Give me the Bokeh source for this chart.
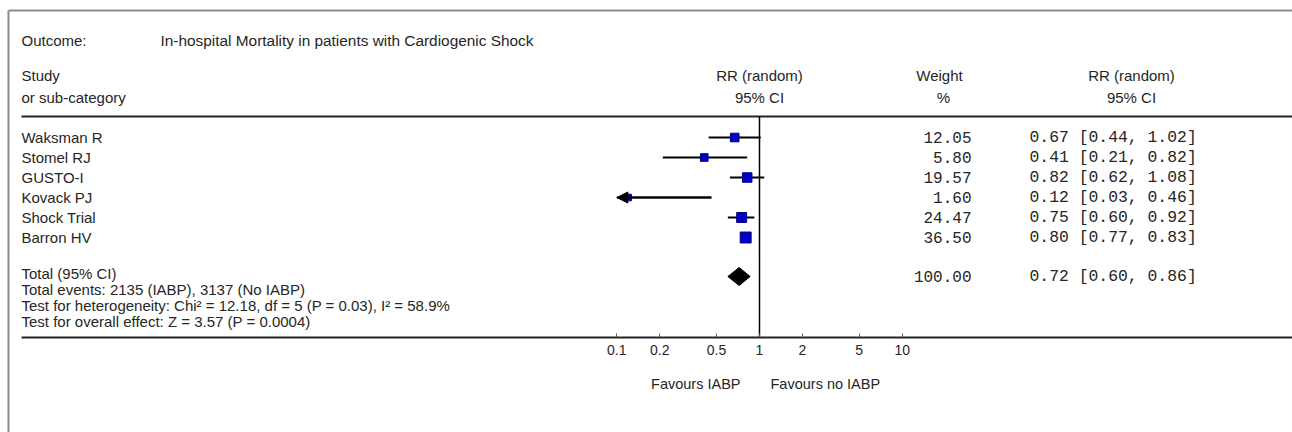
import numpy as np
from bokeh.plotting import figure
from bokeh.models import Range1d, LogScale, LogAxis, FixedTicker, Arrow, NormalHead, ColumnDataSource
from bokeh.core.properties import value
from bokeh.embed import file_html
from bokeh.resources import INLINE

# ---------------- data ----------------
outcome_label = "Outcome:"
outcome = "In-hospital Mortality in patients with Cardiogenic Shock"
studies = ["Waksman R", "Stomel RJ", "GUSTO-I", "Kovack PJ", "Shock Trial", "Barron HV"]
weights = [12.05, 5.80, 19.57, 1.60, 24.47, 36.50]
rr = [0.67, 0.41, 0.82, 0.12, 0.75, 0.80]
ci_lo = [0.44, 0.21, 0.62, 0.03, 0.60, 0.77]
ci_hi = [1.02, 0.82, 1.08, 0.46, 0.92, 0.83]
total_label = "Total (95% CI)"
total_weight = 100.00
total_rr = 0.72
total_lo = 0.60
total_hi = 0.86
summary_lines = [
    "Total events: 2135 (IABP), 3137 (No IABP)",
    "Test for heterogeneity: Chi\u00b2 = 12.18, df = 5 (P = 0.03), I\u00b2 = 58.9%",
    "Test for overall effect: Z = 3.57 (P = 0.0004)",
]
ticks = [0.1, 0.2, 0.5, 1, 2, 5, 10]
tick_labels = ["0.1", "0.2", "0.5", "1", "2", "5", "10"]
favours_left = "Favours IABP"
favours_right = "Favours no IABP"

# ---------------- layout (pixel coordinates of the picture) ----------------
W, H = 1292, 432
NULL_PX = 759.0
DECADE_PX = 142.7


def px_to_rr(px):
    return 10 ** ((px - NULL_PX) / DECADE_PX)


rr_start, rr_end = px_to_rr(0), px_to_rr(W)
CLIP_LO, CLIP_HI = ticks[0], ticks[-1]

LEFT = 21
ROW0, ROW_STEP = 137, 20
HEAD1, HEAD2 = 75, 97
HEAD_LINE = 116
TOTAL_Y = 273
SUM_STEP = 16
AXIS_Y = 337
FAV_Y = 383

SANS = value("Liberation Sans")
MONO = value("Liberation Mono")
TXT = "#262626"

p = figure(width=W, height=H, output_backend="svg", toolbar_location=None,
           x_range=Range1d(0, W), y_range=Range1d(H, 0),
           x_axis_location=None, y_axis_location=None, min_border=0)
p.extra_x_ranges = {"rr": Range1d(rr_start, rr_end)}
p.extra_x_scales = {"rr": LogScale()}
p.xgrid.visible = False
p.ygrid.visible = False
p.outline_line_color = None
p.background_fill_color = "white"
p.border_fill_color = "white"

# frame lines
p.segment(x0=[8, 8], y0=[H, 10], x1=[8, W], y1=[10, 10],
          line_color="#8c8c8c", line_width=2)


def txt(x, y, t, align="left", font=SANS, size="15px", **kw):
    p.text(x=x, y=y, text=t, text_align=align, text_baseline="middle",
           text_font=font, text_font_size=size, text_color=TXT, **kw)


# header
txt([LEFT], [40], [outcome_label])
txt([160], [40], [outcome], size="15.4px")
txt([LEFT, LEFT], [HEAD1, HEAD2], ["Study", "or sub-category"])
txt([1, 1], [HEAD1, HEAD2], ["RR (random)", "95% CI"], align="center", x_range_name="rr")
txt([939, 943], [HEAD1, HEAD2], ["Weight", "%"], align="center")
txt([1131, 1131], [HEAD1, HEAD2], ["RR (random)", "95% CI"], align="center")
p.segment(x0=[LEFT], y0=[HEAD_LINE], x1=[W], y1=[HEAD_LINE], line_color="#222222", line_width=2)

# null line
p.segment(x0=[1], y0=[HEAD_LINE], x1=[1], y1=[AXIS_Y], line_color="black", line_width=1.5,
          x_range_name="rr")

# study rows
ys = [ROW0 + i * ROW_STEP for i in range(len(studies))]
txt([LEFT] * len(studies), ys, studies)
lo_c = [max(v, CLIP_LO) for v in ci_lo]
hi_c = [min(v, CLIP_HI) for v in ci_hi]
p.segment(x0=lo_c, y0=ys, x1=hi_c, y1=ys, line_color="black", line_width=2, x_range_name="rr")
arr = ColumnDataSource(data=dict(
    xs=[h for v, h in zip(ci_lo, hi_c) if v < CLIP_LO],
    xe=[CLIP_LO for v in ci_lo if v < CLIP_LO],
    y=[y for v, y in zip(ci_lo, ys) if v < CLIP_LO]))
p.add_layout(Arrow(source=arr, x_start="xs", x_end="xe", y_start="y", y_end="y",
                   x_range_name="rr", line_color="black", line_width=2,
                   end=NormalHead(size=11, fill_color="black", line_color="black")))
sizes = [5.5 + 0.9 * np.sqrt(w) for w in weights]
p.scatter(x=rr, y=ys, marker="square", size=sizes, fill_color="#0000c8",
          line_color="#000080", line_width=1, x_range_name="rr")
txt([971] * len(studies), ys, [f"{w:.2f}" for w in weights], align="right", font=MONO, size="16px")
txt([1029] * len(studies), ys, [f"{a:.2f} [{b:.2f}, {c:.2f}]" for a, b, c in zip(rr, ci_lo, ci_hi)],
    font=MONO, size="16.4px")

# total row
txt([LEFT], [TOTAL_Y], [total_label])
p.patch(x=[total_lo, total_rr, total_hi, total_rr], y=[TOTAL_Y + 3, TOTAL_Y - 6, TOTAL_Y + 3, TOTAL_Y + 12],
        fill_color="black", line_color="black", x_range_name="rr")
txt([971], [TOTAL_Y + 3], [f"{total_weight:.2f}"], align="right", font=MONO, size="16px")
txt([1029], [TOTAL_Y + 3], [f"{total_rr:.2f} [{total_lo:.2f}, {total_hi:.2f}]"], font=MONO, size="16.4px")
txt([LEFT] * len(summary_lines), [TOTAL_Y + SUM_STEP * (i + 1) for i in range(len(summary_lines))],
    summary_lines)

# axis
ax = LogAxis(x_range_name="rr", fixed_location=AXIS_Y, ticker=FixedTicker(ticks=ticks),
             major_label_overrides={t: l for t, l in zip(ticks, tick_labels)},
             bounds=(px_to_rr(LEFT), rr_end))
ax.axis_line_color = "#222222"
ax.axis_line_width = 2
ax.major_tick_in = 4
ax.major_tick_out = 0
ax.major_tick_line_color = "#555555"
ax.minor_tick_line_color = None
ax.major_label_standoff = 7
ax.major_label_text_font = "Liberation Sans"
ax.major_label_text_font_size = "14px"
ax.major_label_text_color = TXT
p.add_layout(ax, "below")

# favours labels
txt([px_to_rr(740)], [FAV_Y], [favours_left], align="right", size="14.5px", x_range_name="rr")
txt([px_to_rr(770)], [FAV_Y], [favours_right], align="left", size="14.5px", x_range_name="rr")

open("out.html", "w").write(file_html(p, INLINE))
